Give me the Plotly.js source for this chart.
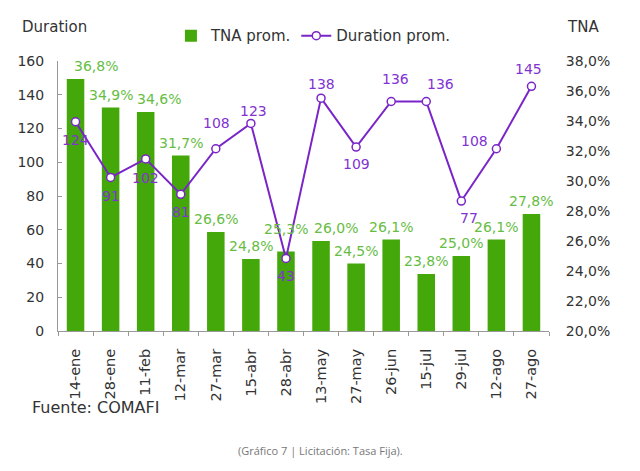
<!DOCTYPE html>
<html>
<head>
<meta charset="utf-8">
<script src="https://cdn.plot.ly/plotly-3.0.1.min.js"></script>
<style>
  html, body { margin: 0; padding: 0; background: #fff; }
  #chart { width: 640px; height: 471px; }
</style>
</head>
<body>
<div id="chart"></div>
<script>
// fechas de licitación
var fechas = ['14-ene', '28-ene', '11-feb', '12-mar', '27-mar', '15-abr', '28-abr',
              '13-may', '27-may', '26-jun', '15-jul', '29-jul', '12-ago', '27-ago'];

// TNA promedio (fracción)
var tna = [0.368, 0.349, 0.346, 0.317, 0.266, 0.248, 0.253,
           0.260, 0.245, 0.261, 0.238, 0.250, 0.261, 0.278];

// Duration promedio (días)
var duration = [124, 91, 102, 81, 108, 123, 43, 138, 109, 136, 136, 77, 108, 145];

var VERDE = '#44a80a';
var VERDE_TXT = '#66bd42';
var VIOLETA = '#7a25c8';
var VIOLETA_TXT = '#8233d2';
var FONT = 'DejaVu Sans, sans-serif';

// corrimiento de etiquetas (px) para que no se pisen, como en el original
var tnaDx = [20, 0, 13, 0, 0, 0, 0, 15, 0, 0, 0, 0, 0, 0];
var tnaDy = [3, 3, 3, 3, 3, 3, 13, 3, 3, 3, 3, 3, 3, 3];
var durDx = [0, 0, 0, 0, 1, 3, 0, 0, 0, 4, 14, 8, -22, -3];
var durDy = [-18, -19, -19, -18, 26, 12, -18, 14, -17, 23, 18, -17, 8, 17];

var fmtPct = function (v) { return (v * 100).toFixed(1).replace('.', ',') + '%'; };

var barras = {
  x: fechas,
  y: tna,
  name: 'TNA prom.',
  type: 'bar',
  yaxis: 'y',
  marker: { color: VERDE },
  hoverinfo: 'skip'
};

var linea = {
  x: fechas,
  y: duration,
  name: 'Duration prom.',
  type: 'scatter',
  mode: 'lines+markers',
  yaxis: 'y2',
  line: { color: VIOLETA, width: 2 },
  marker: { symbol: 'circle', size: 8, color: '#fff', line: { color: VIOLETA, width: 1.5 } },
  cliponaxis: false
};

var etiquetas = [];
fechas.forEach(function (f, i) {
  etiquetas.push({
    x: f, y: tna[i], xref: 'x', yref: 'y',
    text: fmtPct(tna[i]), showarrow: false,
    xanchor: 'center', yanchor: 'bottom', xshift: tnaDx[i], yshift: tnaDy[i],
    font: { family: FONT, size: 14, color: VERDE_TXT }
  });
  etiquetas.push({
    x: f, y: duration[i], xref: 'x', yref: 'y2',
    text: String(duration[i]), showarrow: false,
    xanchor: 'center', yanchor: 'middle', xshift: durDx[i], yshift: durDy[i],
    font: { family: FONT, size: 14, color: VIOLETA_TXT }
  });
});

var titulos = [
  { text: 'Duration', xref: 'paper', yref: 'paper', x: -0.077, y: 1.126,
    xanchor: 'left', yanchor: 'middle', showarrow: false,
    font: { family: FONT, size: 15, color: '#333' } },
  { text: 'TNA', xref: 'paper', yref: 'paper', x: 1.033, y: 1.126,
    xanchor: 'left', yanchor: 'middle', showarrow: false,
    font: { family: FONT, size: 15, color: '#333' } },
  { text: 'Fuente: COMAFI', xref: 'paper', yref: 'paper', x: -0.057, y: -0.283,
    xanchor: 'left', yanchor: 'middle', showarrow: false,
    font: { family: FONT, size: 16, color: '#333' } },
  { text: '(Gráfico 7 | Licitación: Tasa Fija).', xref: 'paper', yref: 'paper',
    x: 0.534, y: -0.441, xanchor: 'center', yanchor: 'middle', showarrow: false,
    font: { family: 'Open Sans, sans-serif', size: 11, color: '#777' } }
];

var layout = {
  width: 640,
  height: 471,
  margin: { l: 58, r: 91, t: 61, b: 140 },
  paper_bgcolor: '#fff',
  plot_bgcolor: '#fff',
  font: { family: FONT, size: 14, color: '#333' },
  separators: ',.',
  bargap: 0.5,
  showlegend: true,
  legend: {
    orientation: 'h',
    x: 0.23, xanchor: 'left',
    y: 1.093, yanchor: 'middle',
    font: { family: FONT, size: 15, color: '#333' },
    bgcolor: 'rgba(0,0,0,0)'
  },
  // eje de categorías: etiquetas (marcas transparentes para separarlas del eje)
  xaxis: {
    type: 'category',
    range: [-0.5, fechas.length - 0.5],
    showline: true,
    linecolor: '#999',
    linewidth: 1,
    ticks: 'outside',
    ticklen: 11,
    tickcolor: 'rgba(0,0,0,0)',
    tickangle: -90,
    tickfont: { family: FONT, size: 14.5, color: '#333' },
    showgrid: false,
    zeroline: false
  },
  // sólo las marcas entre categorías
  xaxis2: {
    type: 'category',
    overlaying: 'x',
    range: [-0.5, fechas.length - 0.5],
    showline: false,
    ticks: 'outside',
    tickson: 'boundaries',
    ticklen: 4,
    tickcolor: '#999',
    showticklabels: false,
    showgrid: false,
    zeroline: false
  },
  // eje derecho (TNA)
  yaxis: {
    side: 'right',
    range: [0.20, 0.38],
    dtick: 0.02,
    tickformat: '.1%',
    showline: false,
    ticks: 'outside',
    ticklen: 13,
    tickcolor: 'rgba(0,0,0,0)',
    showgrid: false,
    zeroline: false,
    tickfont: { family: FONT, size: 14, color: '#333' }
  },
  // eje izquierdo (Duration)
  yaxis2: {
    side: 'left',
    overlaying: 'y',
    range: [0, 160],
    dtick: 20,
    showline: true,
    linecolor: '#999',
    linewidth: 1,
    ticks: 'outside',
    ticklen: 10,
    tickcolor: 'rgba(0,0,0,0)',
    showgrid: false,
    zeroline: false,
    tickfont: { family: FONT, size: 14, color: '#333' }
  },
  // sólo las marcas internas del eje izquierdo
  yaxis3: {
    side: 'left',
    overlaying: 'y',
    range: [0, 160],
    dtick: 20,
    showline: false,
    ticks: 'inside',
    ticklen: 4,
    tickcolor: '#999',
    showticklabels: false,
    showgrid: false,
    zeroline: false
  },
  annotations: etiquetas.concat(titulos)
};

// traza vacía para que se dibujen las marcas de x2 / y3
var vacia = { x: fechas, y: fechas.map(function () { return null; }),
              xaxis: 'x2', yaxis: 'y3', type: 'scatter', mode: 'lines',
              showlegend: false, hoverinfo: 'skip' };

Plotly.newPlot('chart', [barras, linea, vacia], layout, { displayModeBar: false, staticPlot: true });
</script>
</body>
</html>
